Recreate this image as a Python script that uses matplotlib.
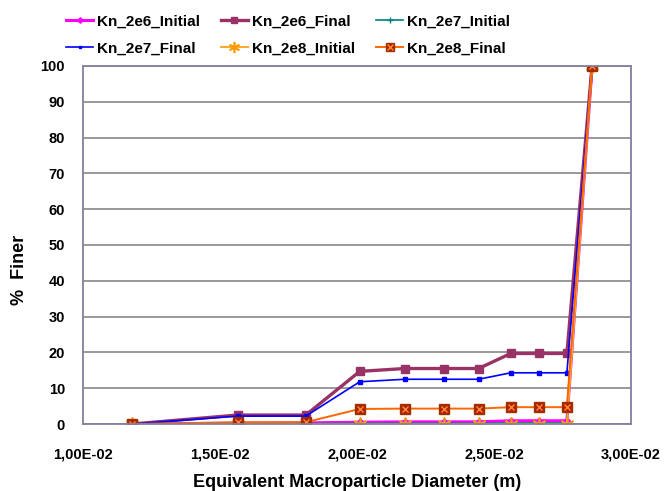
import matplotlib.pyplot as plt
from matplotlib.legend_handler import HandlerTuple
import numpy as np

plt.rcParams['font.family'] = ['Liberation Sans', 'DejaVu Sans']
plt.rcParams['font.weight'] = 'bold'

# equivalent diameters (m)
diam = [0.01180, 0.01564, 0.01813, 0.02010, 0.02175, 0.02318,
        0.02444, 0.02561, 0.02666, 0.02766, 0.02858]

kn2e6_init = [0, 0.2, 0.3, 0.5, 0.6, 0.6, 0.6, 0.9, 0.9, 0.9, 100]
kn2e6_final = [0, 2.5, 2.5, 14.7, 15.5, 15.5, 15.5, 19.7, 19.7, 19.7, 100]
kn2e7_init = [0, 0.1, 0.1, 0.2, 0.2, 0.2, 0.2, 0.3, 0.3, 0.3, 100]
kn2e7_final = [0, 2.2, 2.2, 11.8, 12.5, 12.5, 12.5, 14.3, 14.3, 14.3, 100]
kn2e8_init = [0, 0, 0, 0, 0, 0, 0, 0, 0, 0, 100]
kn2e8_final = [0, 0.5, 0.5, 4.2, 4.3, 4.3, 4.3, 4.7, 4.7, 4.7, 100]

fig = plt.figure(figsize=(6.65, 4.91), dpi=100)
ax = fig.add_axes([83/665, 67/491, 548/665, 358/491])

h1, = ax.plot(diam, kn2e6_init, color='#FF00FF', lw=2.2, marker='D', ms=3.5, mec='#FF00FF', label='Kn_2e6_Initial')
h2, = ax.plot(diam, kn2e6_final, color='#993366', lw=2.4, marker='s', ms=6, label='Kn_2e6_Final')
h3, = ax.plot(diam, kn2e7_init, color='#008080', lw=1.2, marker='+', ms=6, label='Kn_2e7_Initial')
h4, = ax.plot(diam, kn2e7_final, color='#0000FF', lw=1.2, marker='s', ms=2.5, label='Kn_2e7_Final')
h5, = ax.plot(diam, kn2e8_init, color='#FFAA33', lw=1.5, label='Kn_2e8_Initial')
h5m, = ax.plot(diam, kn2e8_init, ls='none', color='#FF9900', marker=(6, 2, 0), ms=10, mew=1.2)
h6, = ax.plot(diam, kn2e8_final, color='#FF6600', lw=1.4, marker='s', ms=7, mfc='#B22200', mec='#993300', label='Kn_2e8_Final')
h6x, = ax.plot(diam, kn2e8_final, ls='none', marker='x', ms=5, mew=1.0, color='#FF8833')

ax.set_xlim(0.01, 0.03)
ax.set_ylim(0, 100)
ax.set_xticks(np.arange(0.01, 0.0301, 0.005))
ax.set_xticklabels(['1,00E-02', '1,50E-02', '2,00E-02', '2,50E-02', '3,00E-02'])
ax.set_yticks(range(0, 101, 10))
ax.tick_params(axis='both', length=0, labelsize=10.5)
ax.tick_params(axis='x', pad=17)
ax.tick_params(axis='y', pad=13)
for t in ax.get_xticklabels() + ax.get_yticklabels():
    t.set_fontweight('bold')
ax.yaxis.grid(True, color='#888888', lw=1.2)
ax.set_axisbelow(True)
for s in ax.spines.values():
    s.set_color('#8080A0')
    s.set_linewidth(1.3)

ax.set_xlabel('Equivalent Macroparticle Diameter (m)', fontsize=13, fontweight='bold')
ax.xaxis.set_label_coords(0.5, -0.14)
ax.set_ylabel('%  Finer', fontsize=13, fontweight='bold')
ax.yaxis.set_label_coords(-0.1, 0.43)

handles = [h1, h4, h2, (h5, h5m), h3, (h6, h6x)]
labels = ['Kn_2e6_Initial', 'Kn_2e7_Final', 'Kn_2e6_Final', 'Kn_2e8_Initial', 'Kn_2e7_Initial', 'Kn_2e8_Final']
fig.legend(handles, labels, ncol=3, loc='upper left', bbox_to_anchor=(52/665, 0.998),
           frameon=False, handlelength=1.8, handletextpad=0.25,
           columnspacing=1.35, labelspacing=0.85, markerscale=0.8,
           handler_map={tuple: HandlerTuple(ndivide=1)},
           prop={'weight': 'bold', 'size': 11})

fig.savefig('out.png', dpi=100)
